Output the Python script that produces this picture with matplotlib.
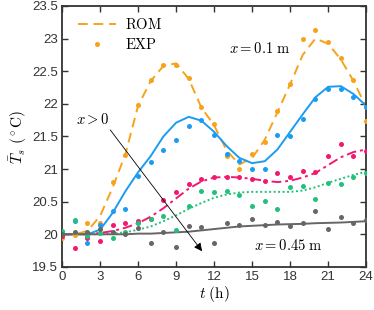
import matplotlib
matplotlib.use('Agg')
import matplotlib.pyplot as plt
import numpy as np

plt.rcParams['mathtext.fontset'] = 'cm'
plt.rcParams['font.family'] = ['Liberation Sans', 'DejaVu Sans']

hours = np.arange(0, 25)

# ROM curves (hourly values)
rom_01 = [20.0, 20.0, 20.05, 20.28, 20.72, 21.23, 21.97, 22.35, 22.58, 22.62, 22.38, 21.94, 21.67,
          21.28, 21.07, 21.17, 21.45, 21.87, 22.3, 22.75, 23.0, 22.92, 22.68, 22.35, 21.95]
rom_02 = [20.0, 20.0, 20.0, 20.07, 20.33, 20.66, 20.95, 21.2, 21.5, 21.71, 21.8, 21.74, 21.57,
          21.35, 21.17, 21.09, 21.12, 21.3, 21.57, 21.84, 22.1, 22.26, 22.27, 22.15, 21.97]
rom_03 = [20.0, 20.0, 20.0, 20.02, 20.05, 20.1, 20.17, 20.27, 20.4, 20.55, 20.7, 20.81, 20.87,
          20.88, 20.87, 20.85, 20.82, 20.8, 20.82, 20.87, 20.94, 21.06, 21.18, 21.26, 21.3]
rom_04 = [20.0, 20.0, 20.0, 20.0, 20.01, 20.03, 20.07, 20.12, 20.2, 20.29, 20.39, 20.48, 20.56,
          20.61, 20.64, 20.65, 20.65, 20.65, 20.65, 20.67, 20.72, 20.79, 20.85, 20.91, 20.96]
rom_05 = [20.0, 20.0, 20.0, 20.0, 20.0, 20.0, 20.01, 20.01, 20.02, 20.03, 20.04, 20.06, 20.08,
          20.1, 20.12, 20.13, 20.14, 20.15, 20.155, 20.16, 20.17, 20.175, 20.18, 20.19, 20.2]

# EXP measurements
exp_01 = [19.95, 19.99, 20.18, 20.17, 20.8, 21.22, 21.98, 22.37, 22.6, 22.6, 22.39, 21.95, 21.69,
          21.2, 21.0, 21.23, 21.42, 21.89, 22.3, 22.99, 23.13, 22.94, 22.7, 22.36, 21.74]
exp_02 = [20.02, 20.2, 19.86, 20.14, 20.36, 20.38, 20.9, 21.11, 21.29, 21.45, 21.66, 21.75, 21.52,
          21.23, 21.13, 21.0, 21.0, 21.52, 21.51, 21.77, 22.08, 22.22, 22.22, 22.1, 21.95]
exp_03 = [19.98, 19.79, 19.95, 19.9, 20.14, 20.18, 20.2, 20.23, 20.53, 20.65, 20.77, 20.84, 20.88,
          20.88, 20.88, 20.85, 20.82, 20.94, 20.88, 20.97, 20.95, 21.2, 21.39, 21.2, 21.28]
exp_04 = [20.05, 20.22, 19.97, 20.02, 19.95, 20.04, 20.18, 20.23, 20.28, 20.06, 20.44, 20.66, 20.65,
          20.67, 20.6, 20.43, 20.51, 20.39, 20.73, 20.74, 20.54, 20.79, 20.77, 20.88, 20.94]
exp_05 = [20.0, 20.04, 20.03, 20.08, 20.03, 20.0, 20.1, 19.86, 20.03, 19.8, 20.13, 20.11, 19.86,
          20.18, 20.14, 20.24, 20.14, 20.19, 20.13, 20.17, 20.35, 20.08, 20.26, 20.18, 20.22]

colors = ['#f7a21b', '#1b9cf2', '#f2186f', '#22c07a', '#666666']
styles = [(0, (5, 3)), '-', (0, (5, 2, 1.5, 2)), (0, (1, 1.3)), '-']
roms = [rom_01, rom_02, rom_03, rom_04, rom_05]
exps = [exp_01, exp_02, exp_03, exp_04, exp_05]

fig = plt.figure(figsize=(3.74, 3.10), dpi=100)
ax = fig.add_axes([0.166, 0.139, 0.813, 0.842])

for i in range(5):
    ax.plot(hours, roms[i], color=colors[i], linestyle=styles[i], lw=1.4,
            label=r'$\mathrm{ROM}$' if i == 0 else None, zorder=2)
    ax.plot(hours, exps[i], 'o', color=colors[i], ms=3.6, mec='none',
            label=r'$\mathrm{EXP}$' if i == 0 else None, zorder=3)

ax.annotate('', xy=(11.05, 19.74), xytext=(3.8, 21.6),
            arrowprops=dict(arrowstyle='-|>', color='black', lw=0.6,
                            mutation_scale=12, shrinkA=0, shrinkB=0))
ax.text(2.4, 21.75, r'$x > 0$', fontsize=10.5, ha='center', va='center')
ax.text(15.6, 22.85, r'$x = 0.1\ \mathrm{m}$', fontsize=10.5, ha='center', va='center')
ax.text(17.9, 19.83, r'$x = 0.45\ \mathrm{m}$', fontsize=10.5, ha='center', va='center')

ax.set_xlim(0, 24)
ax.set_ylim(19.5, 23.5)
ax.set_xticks(np.arange(0, 25, 3))
ax.set_yticks(np.arange(19.5, 23.6, 0.5))
ax.set_yticklabels(['19.5', '20', '20.5', '21', '21.5', '22', '22.5', '23', '23.5'])
ax.tick_params(direction='in', top=True, right=True, length=4, width=1,
               labelsize=9.5, colors='#333333', pad=3)
for s in ax.spines.values():
    s.set_linewidth(1.3)
    s.set_color('#333333')

ax.set_xlabel(r'$t\ \mathrm{(h)}$', fontsize=11, labelpad=1)
ax.set_ylabel(r'$\bar{T}_s\ (^\circ\mathrm{C})$', fontsize=11, labelpad=2)

ax.legend(loc='upper left', frameon=False, fontsize=10.5, handlelength=2.6,
          borderaxespad=0.3, labelspacing=0.3, handletextpad=0.6,
          bbox_to_anchor=(0.02, 0.995))

fig.savefig('out.png', dpi=100)
